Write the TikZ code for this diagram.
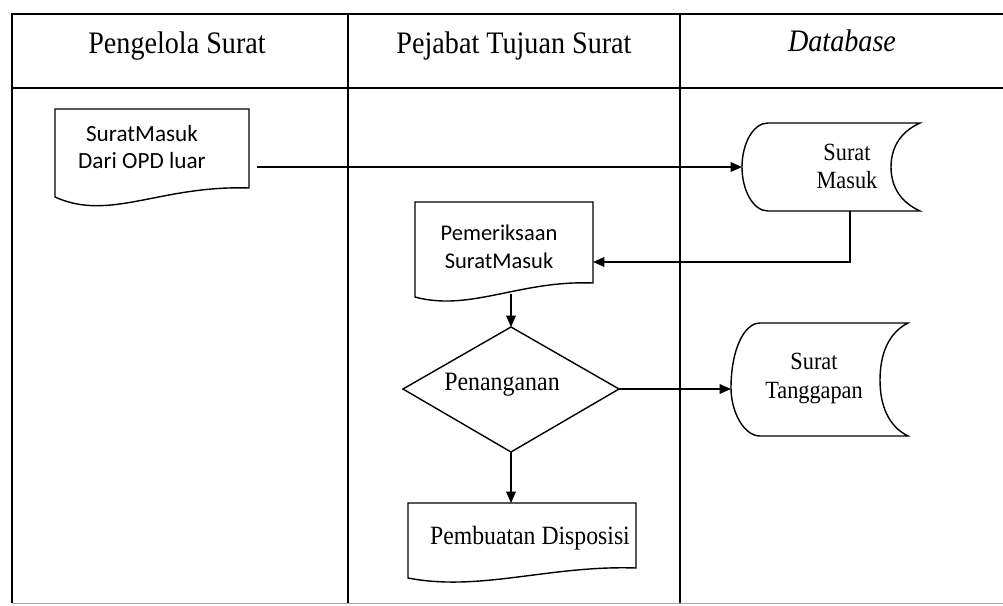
\documentclass[tikz,border=0pt]{standalone}
\usepackage{fontspec}
\setmainfont{Liberation Serif}[FakeStretch=0.9]
\newfontfamily\calibri{Carlito}
\usetikzlibrary{arrows.meta}

\tikzset{
  lane/.style={line width=1.3pt},
  shapeline/.style={line width=0.8pt},
  flow/.style={line width=0.8pt, -{Triangle[length=6.5pt,width=5.5pt]}},
  head/.style={draw=none, font=\fontsize{17.8}{20}\selectfont},
  lbl/.style={draw=none, align=center, font=\fontsize{15}{17}\selectfont},
  clbl/.style={draw=none, align=center, font=\calibri\fontsize{12.8}{16}\selectfont},
}

\begin{document}
\begin{tikzpicture}[x=0.02cm, y=-0.02cm]
\useasboundingbox (0,0) rectangle (1003,605);

% swimlanes
\draw[lane] (1003,14) -- (12,14) -- (12,603);
\draw[lane] (12,88) -- (1003,88);
\draw[black!35, line width=0.5pt] (12,603) -- (1003,603);
\foreach \x in {348,680} {
  \draw[lane] (\x,14) -- (\x,603);
}
\node[head] (hpengelola) at (177,46) {Pengelola Surat};
\node[head] (hpejabat) at (514,46) {Pejabat Tujuan Surat};
\node[head, font=\fontsize{17.8}{20}\selectfont\itshape] (hdatabase) at (842,41) {Database};

% surat dari OPD luar
\draw[shapeline] (55,109) -- (249,109) -- (249,188) .. controls (160,185) and (110,222) .. (55,197) -- cycle;
\node[clbl, font=\calibri\fontsize{13.2}{15.5}\selectfont] (luar) at (142,147) {SuratMasuk\\Dari OPD luar};
\coordinate (luar-out) at (257,167);

% database surat masuk
\draw[shapeline] (768,123) -- (920,123) .. controls (900,132) and (891,148) .. (891,167)
  .. controls (891,186) and (900,202) .. (920,211) -- (768,211)
  .. controls (753,211) and (742,190) .. (742,167) .. controls (742,144) and (753,123) .. (768,123);
\node[lbl, font=\fontsize{14.1}{16}\selectfont] (masuk) at (847,166) {Surat\\Masuk};
\coordinate (masuk-in) at (742,167);
\coordinate (masuk-bot) at (850,211);

% pemeriksaan
\draw[shapeline] (415,202) -- (593,202) -- (593,283) .. controls (520,280) and (470,312) .. (415,297) -- cycle;
\node[clbl] (periksa) at (499,247) {Pemeriksaan\\SuratMasuk};
\coordinate (periksa-in) at (593,262);
\coordinate (periksa-bot) at (511,294);

% penanganan
\draw[shapeline] (511,327) -- (619,389) -- (511,452) -- (403,389) -- cycle;
\node[lbl, font=\fontsize{15.1}{17}\selectfont] (tangani) at (502,385) {Penanganan};
\coordinate (tangani-top) at (511,327);
\coordinate (tangani-right) at (619,389);
\coordinate (tangani-bot) at (511,452);

% database surat tanggapan
\draw[shapeline] (760,323) -- (908,323) .. controls (888,333) and (880,355) .. (880,380)
  .. controls (880,405) and (888,426) .. (908,436) -- (760,436)
  .. controls (744,436) and (731,412) .. (731,388) .. controls (731,350) and (744,323) .. (760,323);
\node[lbl, font=\fontsize{14.1}{16.5}\selectfont] (tanggapan) at (814,378) {Surat\\Tanggapan};
\coordinate (tanggapan-in) at (731,389);

% pembuatan disposisi
\draw[shapeline] (408,503) -- (636,503) -- (636,568) .. controls (550,565) and (480,592) .. (408,578) -- cycle;
\node[lbl] (disposisi) at (530,538) {Pembuatan Disposisi};
\coordinate (disposisi-top) at (511,503);

% connectors
\draw[flow] (luar-out) -- (masuk-in);
\draw[flow] (masuk-bot) |- (periksa-in);
\draw[flow] (periksa-bot) -- (tangani-top);
\draw[flow] (tangani-right) -- (tanggapan-in);
\draw[flow] (tangani-bot) -- (disposisi-top);

\end{tikzpicture}
\end{document}
